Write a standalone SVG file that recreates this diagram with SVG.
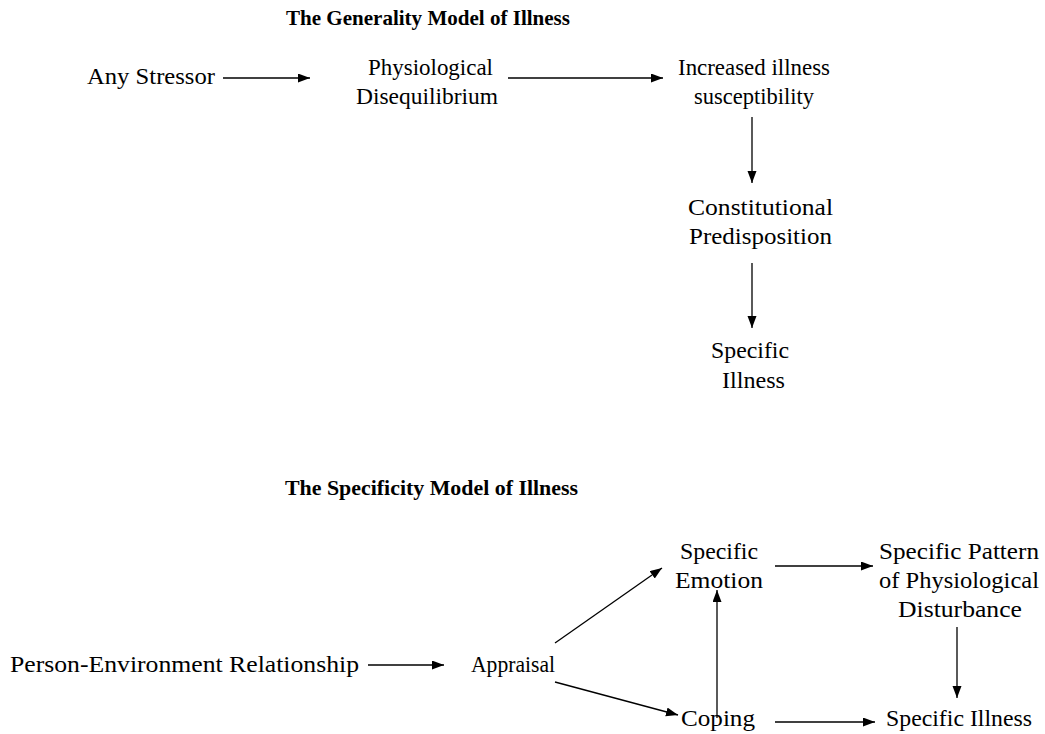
<svg xmlns="http://www.w3.org/2000/svg" width="1045" height="734" viewBox="0 0 1045 734">
  <style>
    .bg { fill: #ffffff; }
    .title { font-family: "Liberation Serif", "DejaVu Serif", serif; font-size: 21px; font-weight: bold; fill: #000; }
    .lbl { font-family: "Liberation Serif", "DejaVu Serif", serif; font-size: 23px; font-weight: normal; fill: #000; }
    .edge { stroke: #000; stroke-width: 1.3; fill: none; marker-end: url(#arrow); }
  </style>
  <defs>
    <marker id="arrow" markerUnits="userSpaceOnUse" markerWidth="13" markerHeight="10" refX="12" refY="4.5" orient="auto">
      <path d="M0,0 L12,4.5 L0,9 z" fill="#000"/>
    </marker>
  </defs>
  <rect class="bg" x="0" y="0" width="1045" height="734"/>

  <!-- Generality model -->
  <text id="title-generality" class="title" x="286" y="25" textLength="284" lengthAdjust="spacingAndGlyphs">The Generality Model of Illness</text>

  <g id="any-stressor">
    <text class="lbl" x="87" y="84" textLength="128" lengthAdjust="spacingAndGlyphs">Any Stressor</text>
  </g>
  <g id="physiological-disequilibrium">
    <text class="lbl" x="368" y="75" textLength="125" lengthAdjust="spacingAndGlyphs">Physiological</text>
    <text class="lbl" x="356" y="104" textLength="142" lengthAdjust="spacingAndGlyphs">Disequilibrium</text>
  </g>
  <g id="increased-susceptibility">
    <text class="lbl" x="678" y="75" textLength="152" lengthAdjust="spacingAndGlyphs">Increased illness</text>
    <text class="lbl" x="694" y="104" textLength="120" lengthAdjust="spacingAndGlyphs">susceptibility</text>
  </g>
  <g id="constitutional-predisposition">
    <text class="lbl" x="688" y="215" textLength="145" lengthAdjust="spacingAndGlyphs">Constitutional</text>
    <text class="lbl" x="689" y="244" textLength="143" lengthAdjust="spacingAndGlyphs">Predisposition</text>
  </g>
  <g id="specific-illness-generality">
    <text class="lbl" x="711" y="358" textLength="78" lengthAdjust="spacingAndGlyphs">Specific</text>
    <text class="lbl" x="722" y="388" textLength="63" lengthAdjust="spacingAndGlyphs">Illness</text>
  </g>

  <!-- Specificity model -->
  <text id="title-specificity" class="title" x="285" y="495" textLength="293" lengthAdjust="spacingAndGlyphs">The Specificity Model of Illness</text>

  <g id="person-environment">
    <text class="lbl" x="10" y="672" textLength="349" lengthAdjust="spacingAndGlyphs">Person-Environment Relationship</text>
  </g>
  <g id="appraisal">
    <text class="lbl" x="471" y="672" textLength="84" lengthAdjust="spacingAndGlyphs">Appraisal</text>
  </g>
  <g id="specific-emotion">
    <text class="lbl" x="680" y="559" textLength="78" lengthAdjust="spacingAndGlyphs">Specific</text>
    <text class="lbl" x="675" y="588" textLength="88" lengthAdjust="spacingAndGlyphs">Emotion</text>
  </g>
  <g id="coping">
    <text class="lbl" x="681" y="726" textLength="74" lengthAdjust="spacingAndGlyphs">Coping</text>
  </g>
  <g id="physiological-disturbance">
    <text class="lbl" x="879" y="559" textLength="160" lengthAdjust="spacingAndGlyphs">Specific Pattern</text>
    <text class="lbl" x="879" y="588" textLength="160" lengthAdjust="spacingAndGlyphs">of Physiological</text>
    <text class="lbl" x="898" y="617" textLength="124" lengthAdjust="spacingAndGlyphs">Disturbance</text>
  </g>
  <g id="specific-illness-specificity">
    <text class="lbl" x="886" y="726" textLength="146" lengthAdjust="spacingAndGlyphs">Specific Illness</text>
  </g>

  <g id="connectors">
    <!-- generality chain -->
    <line class="edge" x1="223" y1="78" x2="310" y2="78"/>
    <line class="edge" x1="508" y1="78" x2="663" y2="78"/>
    <line class="edge" x1="752" y1="117" x2="752" y2="183"/>
    <line class="edge" x1="752" y1="263" x2="752" y2="328"/>
    <!-- specificity chain -->
    <line class="edge" x1="368" y1="665" x2="444" y2="665"/>
    <line class="edge" x1="555" y1="643" x2="662" y2="568"/>
    <line class="edge" x1="555" y1="682" x2="678" y2="715"/>
    <line class="edge" x1="717" y1="718" x2="717" y2="590"/>
    <line class="edge" x1="775" y1="566" x2="873" y2="566"/>
    <line class="edge" x1="957" y1="627" x2="957" y2="698"/>
    <line class="edge" x1="775" y1="722" x2="875" y2="722"/>
  </g>
</svg>
